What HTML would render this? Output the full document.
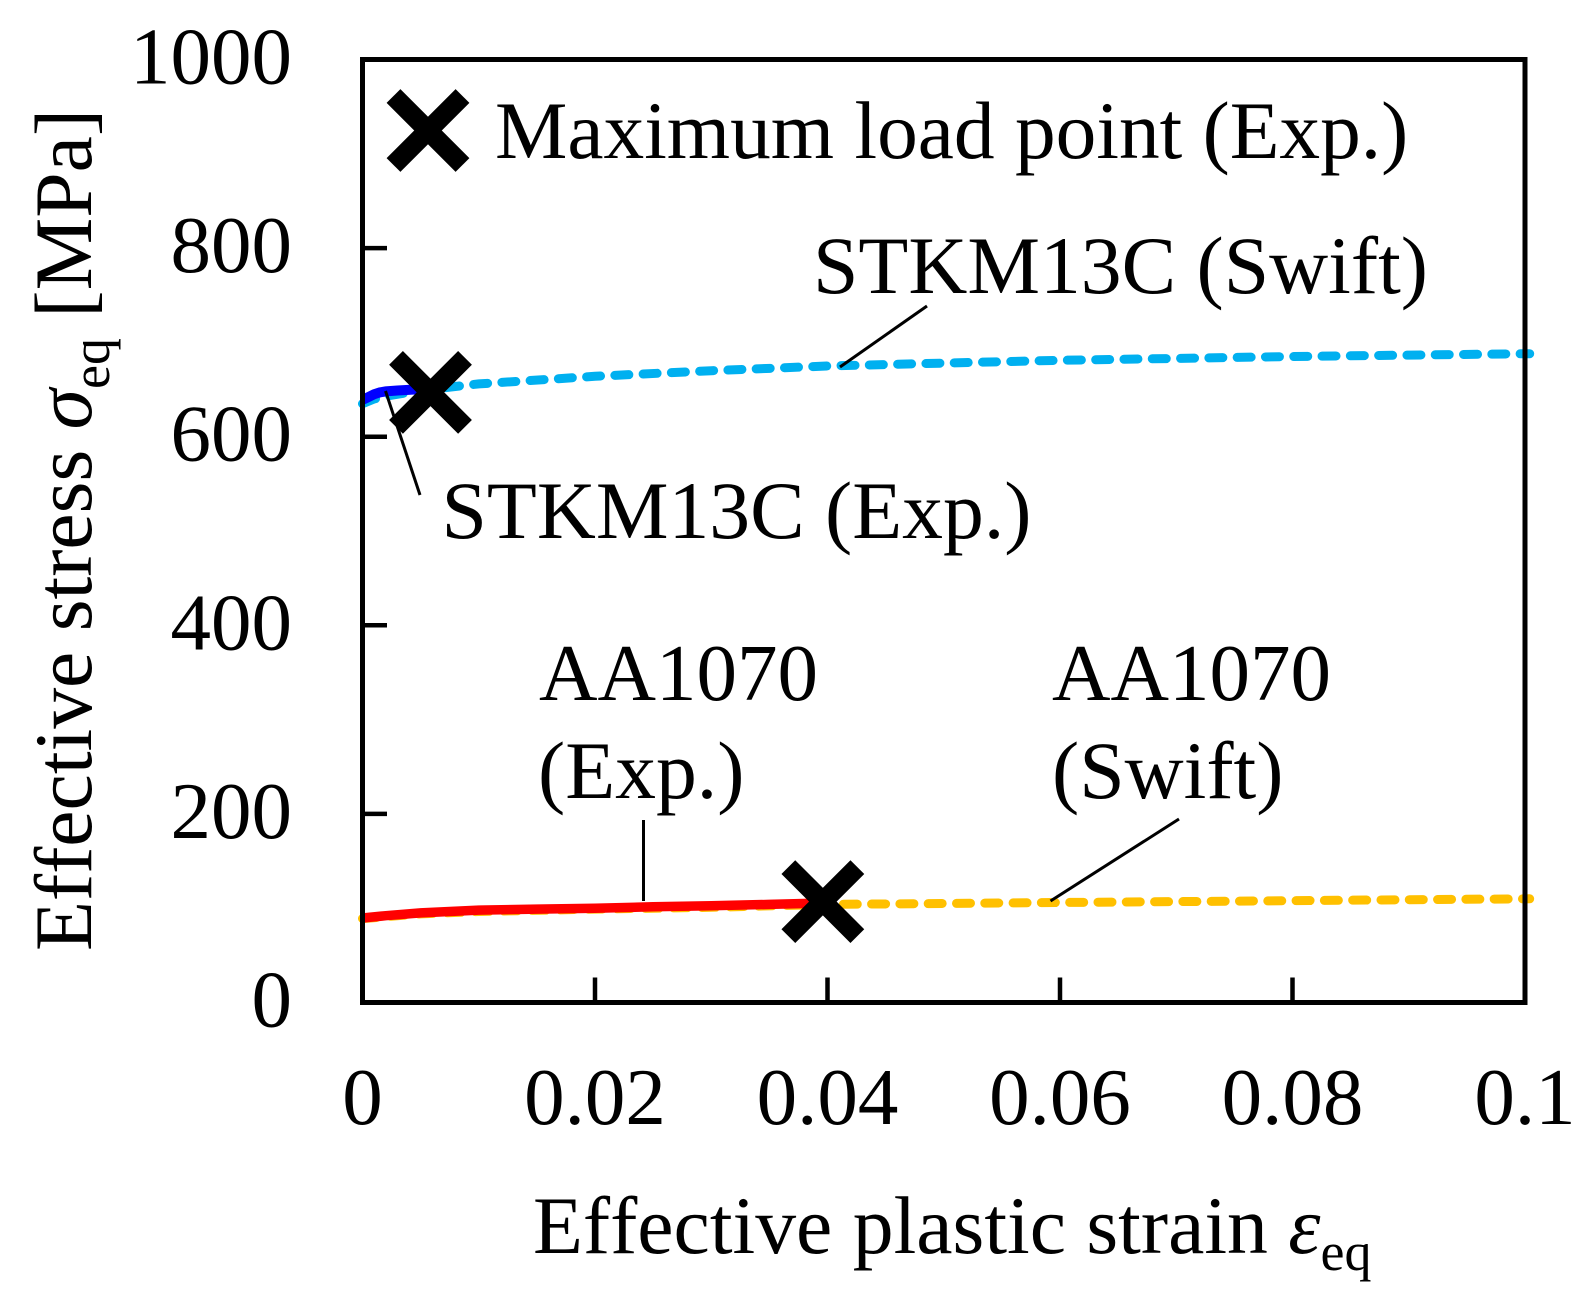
<!DOCTYPE html>
<html>
<head>
<meta charset="utf-8">
<style>
html,body{margin:0;padding:0;background:#fff;}
svg{display:block;}
text{font-family:"Liberation Serif",serif;fill:#000;font-size:81px;font-kerning:none;font-variant-ligatures:none;}
.big{font-size:81.7px;}
</style>
</head>
<body>
<svg id="chart" width="1584" height="1308" viewBox="0 0 1584 1308" xmlns="http://www.w3.org/2000/svg">
  <rect x="0" y="0" width="1584" height="1308" fill="#fff"/>
  <g id="curves"></g>
  <g id="ticks"></g>
  <rect x="362.5" y="59.5" width="1162.5" height="943" fill="none" stroke="#000" stroke-width="5"/>
  <g id="tick-labels"></g>
  <g id="markers"></g>
  <g id="leaders"></g>

  <text class="big" x="533" y="1253">Effective plastic strain <tspan font-style="italic">ε</tspan><tspan style="font-size:54px" dy="17">eq</tspan></text>
  <text class="big" transform="translate(91,951) rotate(-90)">Effective stress <tspan font-style="italic">σ</tspan><tspan style="font-size:54px" dy="18">eq</tspan><tspan dy="-18"> [MPa]</tspan></text>

  <text style="font-size:81.4px" x="495" y="158">Maximum load point (Exp.)</text>
  <text class="big" x="813" y="293">STKM13C (Swift)</text>
  <text class="big" x="441.5" y="538">STKM13C (Exp.)</text>
  <text x="539" y="700">AA1070</text>
  <text class="big" x="538" y="798">(Exp.)</text>
  <text x="1052" y="700">AA1070</text>
  <text class="big" x="1052" y="798">(Swift)</text>
</svg>
<script>
const xTicks = [0, 0.02, 0.04, 0.06, 0.08, 0.1];
const xTickLabels = ['0', '0.02', '0.04', '0.06', '0.08', '0.1'];
const yTicks = [0, 200, 400, 600, 800, 1000];
const yTickLabels = ['0', '200', '400', '600', '800', '1000'];

const stkmSwiftStrain = [0, 0.001, 0.002, 0.005, 0.0085, 0.01, 0.02, 0.03, 0.04, 0.05, 0.06, 0.07, 0.08, 0.09, 0.1004];
const stkmSwiftStress = [635, 640, 643, 649, 654, 656, 664, 670, 675, 678, 681, 683, 685, 686.5, 688];
const stkmExpStrain = [0, 0.0005, 0.001, 0.0015, 0.002, 0.003, 0.0045, 0.0058];
const stkmExpStress = [639, 642, 645, 647, 648, 649, 650, 650];
const aaSwiftStrain = [0, 0.002, 0.005, 0.01, 0.02, 0.03, 0.04, 0.05, 0.06, 0.07, 0.08, 0.09, 0.1004];
const aaSwiftStress = [89, 91, 94, 96.5, 99, 101, 104, 105, 106, 107, 108, 109, 110];
const aaExpStrain = [0, 0.002, 0.005, 0.01, 0.015, 0.02, 0.025, 0.03, 0.035, 0.0396];
const aaExpStress = [89.6, 92, 95, 98, 99, 100, 101.5, 102.6, 104, 105.5];
const maxLoadStrain = [0.00585, 0.0396];
const maxLoadStress = [647, 107];

const NS = 'http://www.w3.org/2000/svg';
const xAxis = v => 362.5 + v / 0.1 * 1162.5;
const yAxis = v => 1002.5 - v / 1000 * 943;

function make(tag, parent, attrs) {
  const el = document.createElementNS(NS, tag);
  for (const k in attrs) el.setAttribute(k, attrs[k]);
  parent.appendChild(el);
  return el;
}

const curves = document.getElementById('curves');
const ticks = document.getElementById('ticks');
const labels = document.getElementById('tick-labels');
const markers = document.getElementById('markers');
const leaders = document.getElementById('leaders');

function curve(xs, ys, color, width, dash) {
  const pts = xs.map((x, i) => xAxis(x).toFixed(1) + ',' + yAxis(ys[i]).toFixed(1)).join(' ');
  const attrs = {points: pts, fill: 'none', stroke: color, 'stroke-width': width};
  if (dash) {
    attrs['stroke-dasharray'] = dash;
    attrs['stroke-linecap'] = 'round';
  }
  return make('polyline', curves, attrs);
}

const c1 = curve(stkmSwiftStrain, stkmSwiftStress, '#00b0f0', 9, '14 14.3');


const c2 = curve(stkmExpStrain, stkmExpStress, '#0000ff', 10);


const c3 = curve(aaSwiftStrain, aaSwiftStress, '#ffc000', 9, '14 14.3');


const c4 = curve(aaExpStrain, aaExpStress, '#ff0000', 9.5);



xTicks.forEach((v, i) => {
  if (i > 0 && i < xTicks.length - 1) {
    const t = make('line', ticks, {x1: xAxis(v), x2: xAxis(v), y1: 1002.5, y2: 977.5, stroke: '#000', 'stroke-width': 4.5});
    
    
  }
  const l = make('text', labels, {x: xAxis(v), y: 1124, 'text-anchor': 'middle'});
  l.textContent = xTickLabels[i];
  
  
});

yTicks.forEach((v, i) => {
  if (i > 0 && i < yTicks.length - 1) {
    const t = make('line', ticks, {x1: 362.5, x2: 387, y1: yAxis(v), y2: yAxis(v), stroke: '#000', 'stroke-width': 4.5});
    
    
  }
  const l = make('text', labels, {x: 292, y: yAxis(v) + 24, 'text-anchor': 'end'});
  l.textContent = yTickLabels[i];
  
  
});

function cross(cx, cy) {
  const r = 34.5;
  return make('path', markers, {
    d: `M${cx - r} ${cy - r}L${cx + r} ${cy + r}M${cx + r} ${cy - r}L${cx - r} ${cy + r}`,
    stroke: '#000', 'stroke-width': 19.5, fill: 'none'
  });
}

maxLoadStrain.forEach((v, i) => {
  const m = cross(xAxis(v), yAxis(maxLoadStress[i]));
  
  
});
const legendMark = cross(428, 130.5);



function leader(x1, y1, x2, y2) {
  return make('line', leaders, {x1, y1, x2, y2, stroke: '#000', 'stroke-width': 3});
}
const l1 = leader(840, 367, 927, 306);


const l2 = leader(385.5, 391, 420, 495);


const l3 = leader(643.5, 901, 643.5, 820);


const l4 = leader(1050.5, 901, 1179, 819);


</script>
</body>
</html>
